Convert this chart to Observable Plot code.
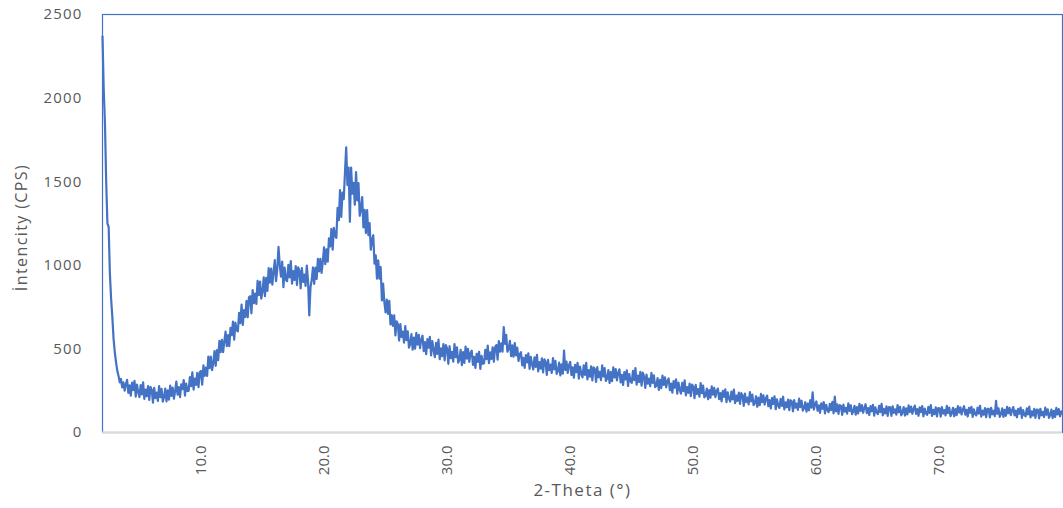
<!DOCTYPE html>
<html>
<head>
<meta charset="utf-8">
<script src="https://cdn.jsdelivr.net/npm/d3@7"></script>
<script src="https://cdn.jsdelivr.net/npm/@observablehq/plot@0.6"></script>
<style>
  html, body { margin: 0; padding: 0; background: #ffffff; }
  #chart svg g[aria-label="y-axis tick label"] text { letter-spacing: 1.2px; }
  #chart svg .xtitle text { letter-spacing: 1.5px; }
  #chart svg .ytitle text { letter-spacing: 1.4px; }
</style>
</head>
<body>
<div id="chart"></div>
<script>
// Scan grid (2-Theta, degrees)
const scanStart = 2.0;
const scanStep = 0.1;

// Intensity (CPS), 10 values per degree (one row per degree)
const intensity2to20 = [
  2370, 2050, 1850, 1500, 1250, 1230, 950, 800, 690, 560,
  480, 420, 370, 340, 300, 320, 270, 300, 250, 290,
  315, 237, 282, 221, 298, 254, 309, 215, 287, 243,
  212, 284, 228, 300, 201, 256, 217, 278, 195, 273,
  256, 178, 267, 206, 239, 189, 278, 211, 261, 184,
  213, 263, 186, 252, 197, 280, 219, 269, 202, 247,
  305, 227, 272, 211, 288, 259, 314, 220, 292, 248,
  249, 332, 277, 360, 257, 322, 285, 356, 271, 360,
  368, 286, 401, 339, 388, 339, 454, 385, 454, 373,
  414, 487, 399, 493, 433, 548, 481, 554, 480, 546,
  603, 516, 583, 517, 626, 582, 663, 555, 657, 612,
  605, 716, 654, 765, 643, 732, 692, 788, 689, 808,
  815, 713, 851, 773, 831, 769, 907, 821, 903, 801,
  844, 928, 816, 925, 847, 983, 896, 980, 884, 961,
  1031, 905, 977, 1110, 1004, 932, 1022, 869, 986, 914,
  905, 1003, 927, 1025, 890, 965, 912, 995, 882, 988,
  968, 862, 983, 900, 945, 877, 998, 907, 700, 870,
  912, 987, 889, 986, 918, 1038, 963, 1038, 954, 1023
];
const intensity20to40 = [
  1107, 1007, 1096, 1022, 1161, 1113, 1218, 1093, 1224, 1176,
  1164, 1344, 1270, 1450, 1289, 1435, 1395, 1553, 1705, 1480,
  1585, 1260, 1584, 1428, 1493, 1362, 1557, 1388, 1491, 1296,
  1337, 1408, 1226, 1331, 1193, 1330, 1181, 1253, 1093, 1153,
  1180, 1010, 1060, 920, 1030, 920, 990, 790, 890, 780,
  718, 795, 710, 787, 646, 702, 638, 701, 581, 665,
  648, 550, 649, 571, 604, 538, 637, 552, 605, 508,
  530, 588, 496, 568, 502, 596, 525, 584, 505, 555,
  579, 487, 540, 468, 559, 507, 572, 461, 546, 494,
  451, 536, 470, 555, 438, 503, 457, 529, 431, 523,
  503, 411, 516, 444, 483, 424, 529, 450, 509, 418,
  435, 494, 403, 481, 416, 514, 442, 501, 422, 475,
  489, 405, 453, 387, 471, 423, 483, 381, 459, 411,
  414, 495, 439, 520, 415, 479, 440, 509, 423, 510,
  523, 436, 546, 484, 533, 484, 630, 530, 584, 483,
  502, 548, 456, 521, 453, 535, 461, 508, 428, 468,
  480, 402, 447, 386, 463, 419, 474, 380, 452, 408,
  377, 449, 393, 465, 366, 421, 382, 443, 360, 438,
  423, 345, 434, 373, 406, 356, 445, 378, 428, 351,
  368, 418, 341, 407, 352, 490, 374, 424, 357, 402
];
const intensity40to60 = [
  422, 344, 389, 328, 405, 361, 416, 322, 394, 350,
  329, 401, 345, 417, 318, 373, 334, 395, 312, 390,
  380, 302, 391, 330, 363, 313, 402, 335, 385, 308,
  323, 373, 296, 362, 307, 390, 329, 379, 312, 357,
  378, 300, 345, 284, 361, 317, 372, 278, 350, 306,
  297, 369, 313, 385, 286, 341, 302, 363, 280, 358,
  337, 267, 347, 292, 322, 277, 357, 297, 342, 272,
  280, 325, 255, 315, 265, 340, 285, 330, 270, 310,
  323, 253, 293, 238, 308, 268, 318, 233, 298, 258,
  232, 297, 247, 312, 222, 272, 237, 292, 217, 287,
  275, 205, 285, 230, 260, 215, 295, 235, 280, 210,
  221, 262, 199, 253, 208, 276, 226, 267, 212, 249,
  263, 199, 236, 186, 249, 213, 258, 181, 240, 204,
  185, 244, 198, 257, 176, 221, 189, 239, 171, 235,
  223, 159, 232, 182, 209, 168, 241, 186, 227, 164,
  176, 217, 154, 208, 163, 231, 181, 222, 167, 204,
  221, 157, 194, 144, 207, 171, 216, 139, 198, 162,
  147, 201, 159, 214, 138, 180, 151, 197, 134, 193,
  186, 127, 194, 148, 173, 136, 203, 152, 190, 131,
  145, 181, 125, 173, 133, 193, 149, 240, 137, 169
];
const intensity60to80 = [
  186, 130, 162, 118, 174, 142, 182, 114, 166, 134,
  122, 172, 134, 183, 115, 215, 126, 168, 111, 164,
  159, 106, 167, 125, 148, 113, 174, 129, 163, 110,
  126, 160, 107, 152, 114, 171, 129, 164, 118, 148,
  169, 116, 146, 105, 158, 127, 165, 101, 150, 120,
  110, 160, 122, 171, 103, 141, 114, 156, 99, 152,
  150, 100, 157, 118, 139, 107, 164, 121, 154, 103,
  119, 152, 101, 144, 108, 162, 123, 155, 112, 141,
  161, 111, 140, 100, 151, 122, 158, 97, 143, 115,
  106, 153, 117, 164, 99, 135, 110, 150, 96, 146,
  145, 95, 152, 113, 134, 102, 159, 116, 149, 98,
  115, 148, 97, 140, 104, 158, 119, 151, 108, 137,
  157, 107, 136, 96, 147, 118, 154, 93, 139, 111,
  102, 149, 113, 160, 95, 131, 106, 146, 92, 142,
  141, 91, 148, 109, 130, 98, 190, 112, 145, 94,
  111, 144, 93, 136, 100, 154, 115, 147, 104, 133,
  152, 102, 131, 91, 142, 113, 149, 88, 134, 106,
  97, 144, 108, 155, 90, 126, 101, 141, 87, 137,
  135, 85, 142, 103, 124, 92, 149, 106, 139, 88,
  104, 137, 86, 129, 93, 147, 108, 140, 97, 126,
  112
];

const xTicks = [10, 20, 30, 40, 50, 60, 70];
const yTicks = [0, 500, 1000, 1500, 2000, 2500];
const xTitle = "2-Theta (°)";
const yTitle = "İntencity (CPS)";

const intensity = [].concat(intensity2to20, intensity20to40, intensity40to60, intensity60to80);
const scan = intensity.map((v, i) => ({theta: +(scanStart + i * scanStep).toFixed(2), cps: v}));

const chart = Plot.plot({
  width: 1063,
  height: 508,
  marginLeft: 102,
  marginRight: 1,
  marginTop: 14,
  marginBottom: 76,
  style: {fontFamily: "'Open Sans', sans-serif", color: "#595959", background: "#ffffff", overflow: "visible"},
  x: {domain: [2, 80], label: null},
  y: {domain: [0, 2500], label: null},
  marks: [
    Plot.axisY({ticks: yTicks, tickSize: 0, tickPadding: 20, fontSize: 15, label: null, tickFormat: d => String(d)}),
    Plot.axisX({ticks: xTicks, tickSize: 0, tickPadding: 13, tickRotate: -90, fontSize: 15, label: null,
                tickFormat: d => d.toFixed(1)}),
    Plot.line(scan, {x: "theta", y: "cps", stroke: "#4472C4", strokeWidth: 2.2}),
    Plot.frame({stroke: "#4472C4", strokeWidth: 1.2}),
    Plot.ruleY([0], {stroke: "#d9d9d9", strokeWidth: 2}),
    Plot.text([xTitle], {frameAnchor: "bottom", dy: 63, fontSize: 17, fill: "#595959", className: "xtitle"}),
    Plot.text([yTitle], {frameAnchor: "left", dx: -81, dy: 4, rotate: -90, textAnchor: "middle", fontSize: 16, fill: "#595959", className: "ytitle"})
  ]
});
document.getElementById("chart").appendChild(chart);
</script>
</body>
</html>
